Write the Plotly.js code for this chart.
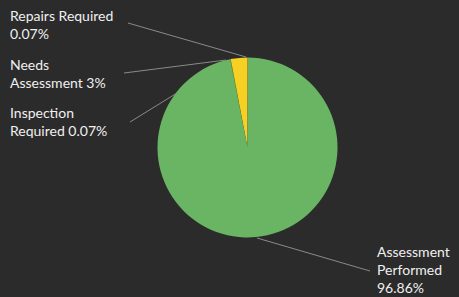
<!DOCTYPE html>
<html>
<head>
<meta charset="utf-8">
<script src="https://cdn.plot.ly/plotly-3.0.1.min.js"></script>
<style>
html,body{margin:0;padding:0;background:#2b2b2b;}
#chart{width:459px;height:297px;}
</style>
</head>
<body>
<div id="chart"></div>
<script>
// Data
const categories = ["Repairs Required", "Needs Assessment", "Inspection Required", "Assessment Performed"];
const values = [0.07, 3, 0.07, 96.86];
const labelTexts = ["Repairs Required<br>0.07%", "Needs<br>Assessment 3%", "Inspection<br>Required 0.07%", "Assessment<br>Performed<br>96.86%"];
const sliceColors = ["#e0891c", "#f6d022", "#d9b21a", "#6ab563"];

const W = 459, H = 297;
const px = x => x / W;
const py = y => 1 - y / H;

// label placement (layout only)
const labelPos = [[8, 5], [8, 54], [8, 102], [375, 241]];
// leader lines: [from text x,y] -> [to pie edge x,y]
const leaders = [
  [[128, 23], [246, 57]],
  [[124, 73], [226, 60]],
  [[130, 122], [177, 93]],
  [[370, 271], [257, 238]]
];

const trace = {
  type: "pie",
  labels: categories,
  values: values,
  sort: false,
  direction: "counterclockwise",
  rotation: 0,
  marker: {colors: sliceColors, line: {width: 0}},
  textinfo: "none",
  hoverinfo: "label+percent",
  domain: {x: [px(157.5), px(337.5)], y: [py(237.5), py(57.5)]},
  showlegend: false
};

const annotations = labelTexts.map((t, i) => ({
  text: t,
  xref: "paper", yref: "paper",
  x: px(labelPos[i][0]), y: py(labelPos[i][1]),
  xanchor: "left", yanchor: "top", align: "left",
  showarrow: false,
  font: {family: "Lato, 'Open Sans', sans-serif", size: 14, color: "#f0f0f0"}
}));

const shapes = leaders.map(l => ({
  type: "line", xref: "paper", yref: "paper",
  x0: px(l[0][0]), y0: py(l[0][1]), x1: px(l[1][0]), y1: py(l[1][1]),
  line: {color: "#8a8a8a", width: 1}
}));

const layout = {
  width: W, height: H,
  margin: {l: 0, r: 0, t: 0, b: 0},
  paper_bgcolor: "#2b2b2b",
  plot_bgcolor: "#2b2b2b",
  showlegend: false,
  annotations: annotations,
  shapes: shapes
};

Plotly.newPlot("chart", [trace], layout, {displayModeBar: false, staticPlot: true});
</script>
</body>
</html>
